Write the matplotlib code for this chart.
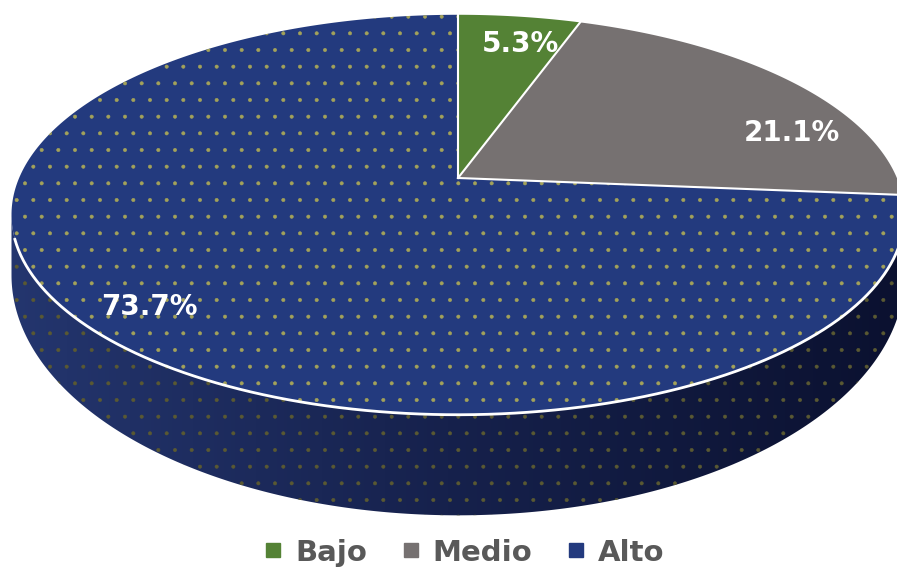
import numpy as np
import matplotlib
matplotlib.use('Agg')
import matplotlib.pyplot as plt
from matplotlib.patches import Polygon
from matplotlib.lines import Line2D
from matplotlib.colors import LinearSegmentedColormap

# data
categories = ['Bajo', 'Medio', 'Alto']
percentages = [5.3, 21.1, 73.7]
label_texts = ['5.3%', '21.1%', '73.7%']
colors = ['#548235', '#767171', '#233a7e']

plt.rcParams['font.family'] = ['DejaVu Sans']
plt.rcParams['hatch.linewidth'] = 0.4

# perspective-ish view of the pie (Excel style 3d pie)
ELEV = np.radians(26.7)
DIST = 4.86
FX = 2133
FY_TOP, FY_BOT = 2090, 2510   # bottom disc looks a bit rounder
CX = 458
CY_TOP, CY_BOT = 178, 231


def project(x, y, s=0.0):
    # s = 0 on the top face, 1 on the bottom face
    zc = DIST + y * np.cos(ELEV)
    fy = FY_TOP + s * (FY_BOT - FY_TOP)
    cy = CY_TOP + s * (CY_BOT - CY_TOP)
    return CX + FX * x / zc, cy - fy * y * np.sin(ELEV) / zc


def arc(t0, t1, s=0.0, r=1.0, n=300):
    t = np.linspace(t0, t1, n)
    sx, sy = project(r * np.sin(t), r * np.cos(t), s)
    return np.column_stack([sx, sy])


fig = plt.figure(figsize=(8.97, 5.68), dpi=100)
ax = fig.add_axes([0, 0, 1, 1])
ax.set_xlim(0, 897)
ax.set_ylim(568, 0)
ax.axis('off')

fracs = np.array(percentages) / sum(percentages)
bounds = np.concatenate([[0], np.cumsum(fracs)]) * 2 * np.pi

# front part of the rim (between left-most and right-most points)
t_vis = np.arccos(-np.cos(ELEV) / DIST)
side_lo, side_hi = t_vis, 2 * np.pi - t_vis

side_cmap = LinearSegmentedColormap.from_list(
    'side', ['#24366f', '#16214c', '#0b1130'])
grad = np.linspace(0, 1, 256).reshape(1, -1)

for i in range(len(categories)):
    a0 = max(bounds[i], side_lo)
    a1 = min(bounds[i + 1], side_hi)
    if a1 <= a0:
        continue
    pts = np.vstack([arc(a0, a1, 0), arc(a0, a1, 1)[::-1]])
    if i == 2:
        clip = Polygon(pts, closed=True, facecolor='none', lw=0)
        ax.add_patch(clip)
        im = ax.imshow(grad, cmap=side_cmap, extent=(0, 897, 568, 0),
                       aspect='auto', zorder=1)
        im.set_clip_path(clip)
        ax.add_patch(Polygon(pts, closed=True, facecolor='none',
                             edgecolor='#5a5932', lw=0, hatch='.', zorder=2))
    else:
        ax.add_patch(Polygon(pts, closed=True, facecolor=colors[i],
                             lw=0, zorder=1))

# top face
for i in range(len(categories)):
    pts = np.vstack([[CX, CY_TOP], arc(bounds[i], bounds[i + 1], 0)])
    if i == 2:
        ax.add_patch(Polygon(pts, closed=True, facecolor=colors[i],
                             edgecolor='#a3a25a', lw=0, hatch='.', zorder=3))
    else:
        ax.add_patch(Polygon(pts, closed=True, facecolor=colors[i],
                             lw=0, zorder=3))

# white separators and front rim line
for b in bounds[:-1]:
    ex, ey = project(np.sin(b), np.cos(b))
    ax.plot([CX, ex], [CY_TOP, ey], color='white', lw=1.5, zorder=4)
rim = arc(side_lo + 0.12, side_hi - 0.12, 0)
ax.plot(rim[:, 0], rim[:, 1], color='white', lw=2, zorder=4)

# data labels
label_shift = np.radians([2, 16, -1])
label_r = [0.81, 0.83, 0.865]
for i, txt in enumerate(label_texts):
    mid = (bounds[i] + bounds[i + 1]) / 2 + label_shift[i]
    lx, ly = project(label_r[i] * np.sin(mid), label_r[i] * np.cos(mid))
    ax.text(lx, ly, txt, color='white', fontsize=20, fontweight='bold',
            ha='center', va='center', zorder=5)

handles = [Line2D([], [], marker='s', ls='', color=c, markersize=9.5)
           for c in colors]
ax.legend(handles, categories, loc='center', bbox_to_anchor=(0.518, 0.027),
          ncol=3, frameon=False, handlelength=0.6, handletextpad=0.45,
          columnspacing=1.2, labelcolor='#595959',
          prop={'size': 21, 'weight': 'bold'})

fig.savefig('out.png', dpi=100)
